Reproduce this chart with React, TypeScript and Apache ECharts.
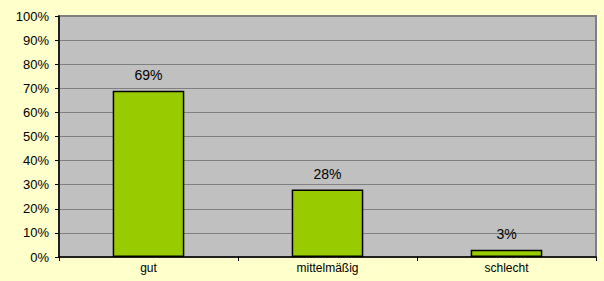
import React, { useEffect, useRef } from "react";
import * as echarts from "echarts";

const categories = ["gut", "mittelmäßig", "schlecht"];
const values = [69, 28, 3];
const yTicks = { min: 0, max: 100, interval: 10 };

const FONT = "'Liberation Sans', Arial, sans-serif";

export default function App() {
  const ref = useRef<HTMLDivElement>(null);
  useEffect(() => {
    if (!ref.current) return;
    const chart = echarts.init(ref.current, undefined, { renderer: "svg" });
    chart.setOption({
      animation: false,
      backgroundColor: "#FFFFCC",
      textStyle: { fontFamily: FONT },
      grid: {
        left: 59,
        right: 8,
        top: 16,
        bottom: 24,
        show: true,
        backgroundColor: "#C0C0C0",
        borderColor: "#808080",
        borderWidth: 2,
      },
      xAxis: {
        type: "category",
        data: categories,
        axisLine: { show: true, lineStyle: { color: "#000", width: 1.5 } },
        axisTick: { show: true, alignWithLabel: false, length: 4, lineStyle: { color: "#000" } },
        axisLabel: { color: "#000", fontSize: 12, fontFamily: FONT, margin: 5 },
      },
      yAxis: {
        type: "value",
        min: yTicks.min,
        max: yTicks.max,
        interval: yTicks.interval,
        axisLine: { show: true, lineStyle: { color: "#000", width: 1.5 } },
        axisTick: { show: true, length: 4, lineStyle: { color: "#000" } },
        axisLabel: { color: "#000", fontSize: 13, fontFamily: FONT, formatter: "{value}%", margin: 10 },
        splitLine: { show: true, lineStyle: { color: "#808080", width: 1 } },
      },
      series: [
        {
          type: "bar",
          data: values,
          barWidth: "40%",
          itemStyle: { color: "#99CC00", borderColor: "#000", borderWidth: 1.5 },
          label: {
            show: true,
            position: "top",
            distance: 9,
            formatter: "{c}%",
            color: "#000",
            fontSize: 14,
            fontFamily: FONT,
          },
        },
      ],
    });
    return () => chart.dispose();
  }, []);
  return (
    <div
      ref={ref}
      style={{ position: "absolute", left: 0, top: 0, width: 604, height: 281 }}
    />
  );
}
